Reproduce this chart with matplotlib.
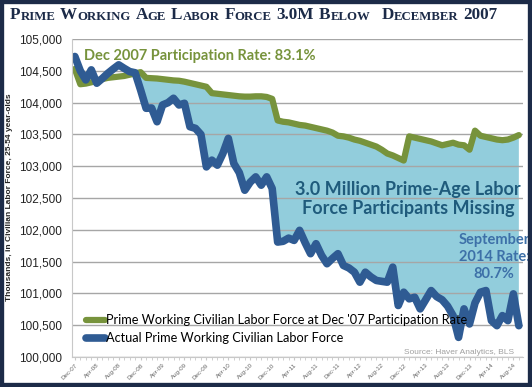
import numpy as np
import matplotlib
matplotlib.use("Agg")
import matplotlib.pyplot as plt
from matplotlib.patches import Rectangle

# monthly data, Dec 2007 .. Sep 2014 (thousands)
months = 82
tick_labels = ["Dec-07", "Apr-08", "Aug-08", "Dec-08", "Apr-09", "Aug-09", "Dec-09",
               "Apr-10", "Aug-10", "Dec-10", "Apr-11", "Aug-11", "Dec-11", "Apr-12",
               "Aug-12", "Dec-12", "Apr-13", "Aug-13", "Dec-13", "Apr-14", "Aug-14"]

at_2007_rate = [104530, 104290, 104300, 104320, 104350, 104370, 104390, 104400, 104410, 104420,
                104440, 104460, 104480, 104390, 104385, 104380, 104370, 104360, 104350, 104345,
                104330, 104310, 104290, 104270, 104250, 104150, 104140, 104130, 104120, 104110,
                104100, 104095, 104095, 104100, 104100, 104090, 104060, 103720, 103700, 103690,
                103670, 103650, 103640, 103620, 103600, 103580, 103560, 103530, 103480, 103470,
                103450, 103420, 103400, 103370, 103340, 103310, 103260, 103200, 103170, 103130,
                103090, 103470, 103450, 103430, 103410, 103390, 103360, 103330, 103350, 103370,
                103340, 103330, 103260, 103560, 103480, 103460, 103440, 103420, 103410, 103420,
                103450, 103490]

actual = [104726, 104500, 104358, 104516, 104306, 104380, 104460, 104530, 104595, 104540,
          104489, 104470, 104200, 103912, 103916, 103700, 103964, 104000, 104069, 103964,
          103990, 103622, 103596, 103500, 102990, 103096, 103017, 103200, 103438, 103044,
          102900, 102623, 102750, 102833, 102702, 102833, 102650, 101808, 101820, 101870,
          101834, 101992, 101800, 101625, 101782, 101600, 101467, 101550, 101625, 101440,
          101400, 101334, 101177, 101334, 101260, 101204, 101190, 101177, 101413, 100810,
          101019, 100915, 100940, 100757, 100900, 101045, 100950, 100900, 100800, 100651,
          100309, 100757, 100520, 100850, 101019, 101045, 100572, 100493, 100651, 100572,
          100993, 100493]

navy = "#1c2b48"
green = "#77933c"
blue = "#2f5b93"
fill_c = "#92cddc"

fig = plt.figure(figsize=(5.32, 3.87), dpi=100)
ax = fig.add_axes([0.135, 0.0775, 0.848, 0.8215])

x = np.arange(months)
g = np.array(at_2007_rate)
b = np.array(actual)
ax.fill_between(x, b, g, where=g >= b, interpolate=True, color=fill_c, lw=0, zorder=0.3)
l1, = ax.plot(x, g, color=green, lw=4.5, solid_capstyle="round", solid_joinstyle="round", zorder=2)
l2, = ax.plot(x, b, color=blue, lw=5.5, solid_capstyle="round", solid_joinstyle="round", zorder=2.1)

ax.set_xlim(-0.55, 81.75)
ax.set_ylim(100000, 105000)
ax.set_yticks(np.arange(100000, 105001, 500))
ax.set_yticklabels([f"{v:,}" for v in range(100000, 105001, 500)],
                   fontsize=8.5, family="Liberation Sans", color="#222222")
ax.set_xticks(np.arange(0, months, 4))
ax.set_xticks(np.arange(months), minor=True)
ax.set_xticklabels(tick_labels, rotation=45, ha="right", rotation_mode="anchor",
                   fontsize=4.5, color="#666666", family="Liberation Sans")
ax.tick_params(axis="y", length=0, pad=7)
ax.tick_params(axis="x", which="both", length=2, color="#c8c8c8", pad=2)
ax.set_axisbelow(True)
ax.yaxis.grid(True, color="#a6a6a6", lw=1)
for s in ["top", "right"]:
    ax.spines[s].set_visible(False)
ax.spines["left"].set_color("#c8c8c8")
ax.spines["bottom"].set_color("#c8c8c8")
ax.spines["bottom"].set_linestyle((0, (2, 1)))

ax.text(1.6, 104737, "Dec 2007 Participation Rate: 83.1%", color=green, fontsize=10.5,
        fontweight="bold", family="Lato", ha="left", va="center", zorder=3)
ax.text(60.8, 102481, "3.0 Million Prime-Age Labor\nForce Participants Missing",
        color="#1f5b7c", fontsize=13, fontweight="bold", family="Lato",
        ha="center", va="center", linespacing=1.15, zorder=3)
ax.text(76.5, 101570, "September\n2014 Rate:\n80.7%", color="#3d70a8", fontsize=10.5,
        fontweight="bold", family="Lato", ha="center", va="center", linespacing=1.3, zorder=3)

ax.legend([l1, l2], ["Prime Working Civilian Labor Force at Dec '07 Participation Rate",
                     "Actual Prime Working Civilian Labor Force"],
          loc="upper left", bbox_to_anchor=(0.02, 0.15), frameon=False,
          prop={"family": "Lato", "size": 9.2}, handlelength=1.5, handletextpad=0.1,
          labelspacing=0.45, borderaxespad=0)

fig.text(514 / 532, 1 - 352 / 387, "Source: Haver Analytics, BLS", color="#a0a0a0",
         fontsize=6, family="Liberation Sans", ha="right", va="center")

fig.text(10 / 532, 0.49, "Thousands, in Civilian Labor Force, 25-54 year-olds",
         rotation=90, fontsize=6, fontweight="bold", family="Liberation Sans",
         ha="center", va="center", color="#222222")

# title in small caps: (text, big letter?, gap before in points)
segs = [("P", 1, 0), ("RIME", 0, 0), ("W", 1, 3.5), ("ORKING", 0, 0), ("A", 1, 3.5), ("GE", 0, 0),
        ("L", 1, 3.5), ("ABOR", 0, 0), ("F", 1, 3.5), ("ORCE", 0, 0), ("3.0M", 1, 3.5),
        ("B", 1, 3.5), ("ELOW", 0, 0), ("D", 1, 8), ("ECEMBER", 0, 0), ("2007", 1, 3.5)]
tkw = dict(family="Liberation Serif", fontweight="bold", color=navy)
last = None
for s, big, gap in segs:
    size = 12.3 if big else 9.2
    if last is None:
        last = fig.text(10 / 532, 1 - 23 / 387, s, fontsize=size, va="bottom", ha="left", **tkw)
    else:
        last = fig.add_artist(plt.Annotation(s, xy=(1, 0), xycoords=last, xytext=(gap, 0),
                                             textcoords="offset points", va="bottom", ha="left",
                                             fontsize=size, **tkw))

fig.patches.append(Rectangle((0, 0), 1, 1, transform=fig.transFigure, fill=False,
                             ec=navy, lw=6))

fig.savefig("out.png", dpi=100)
